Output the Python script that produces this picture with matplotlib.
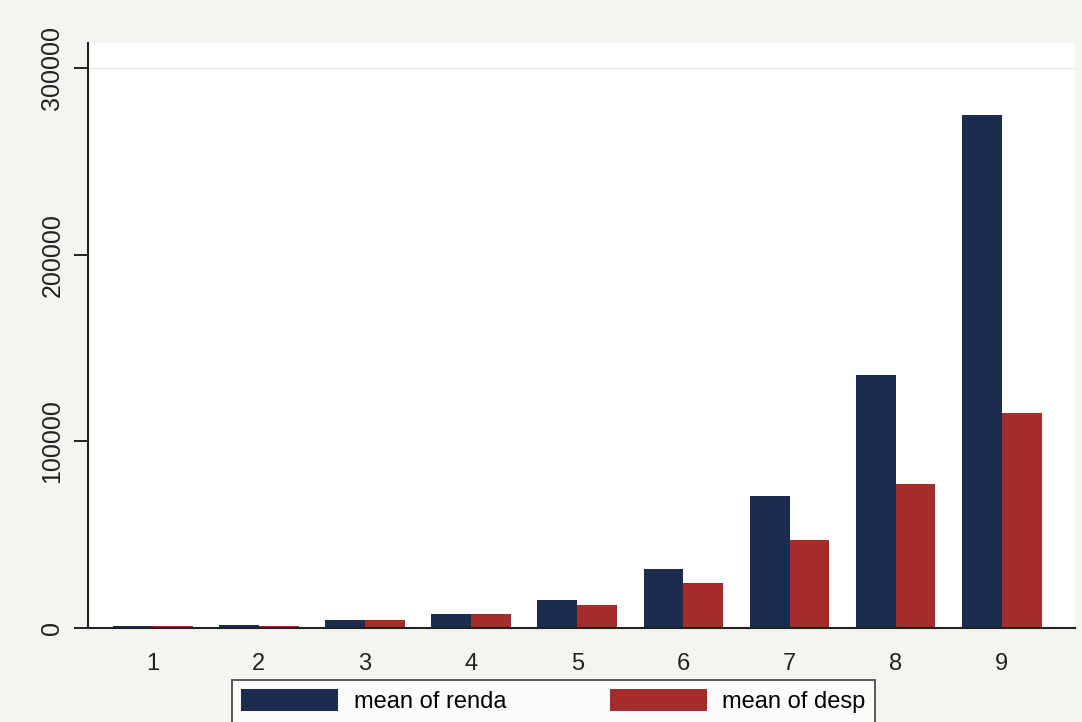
import matplotlib.pyplot as plt
import numpy as np

plt.rcParams['font.family'] = ['Liberation Sans', 'DejaVu Sans']

groups = ['1', '2', '3', '4', '5', '6', '7', '8', '9']
renda = [1000, 1600, 4300, 7500, 15000, 31600, 70700, 135500, 274800]
desp = [1000, 1300, 4300, 7500, 12300, 24100, 47100, 77100, 115200]
yticks = [0, 100000, 200000, 300000]

navy = '#1b2c4e'
red = '#a62b2b'

fig = plt.figure(figsize=(10.82, 7.22), dpi=100, facecolor='#f4f4f1')
ax = fig.add_axes([88 / 1082, 1 - 628 / 722, (1075 - 88) / 1082, (628 - 43) / 722])
ax.set_facecolor('white')

x = np.arange(1, len(groups) + 1)
w = 0.375
ax.bar(x - w / 2, renda, width=w, color=navy, label='mean of renda')
ax.bar(x + w / 2, desp, width=w, color=red, label='mean of desp')

ax.set_xlim(0.39, 9.69)
ax.set_ylim(0, 313400)
ax.set_xticks(x)
ax.set_xticklabels(groups, fontsize=17, color='#222222')
ax.tick_params(axis='x', length=0, pad=18)
ax.set_yticks(yticks)
ax.set_yticklabels([str(v) for v in yticks], fontsize=18, rotation=90,
                   va='center', color='#222222')
ax.tick_params(axis='y', length=10, width=1.2, pad=7)

ax.axhline(300000, color='#e6e9e8', lw=1, zorder=0)

for s in ['top', 'right']:
  ax.spines[s].set_visible(False)
for s in ['left', 'bottom']:
  ax.spines[s].set_linewidth(1.5)
  ax.spines[s].set_color('#222222')

leg = fig.legend(loc='upper left', bbox_to_anchor=(232 / 1082, 1 - 680 / 722),
                 ncol=2, fontsize=17, frameon=True, fancybox=False,
                 handlelength=4.1, handleheight=1.05, handletextpad=0.65,
                 columnspacing=4.4, borderpad=0.4, borderaxespad=0)
leg.get_frame().set_edgecolor('#222222')
leg.get_frame().set_linewidth(1.3)
leg.get_frame().set_facecolor('white')

fig.savefig('out.png', dpi=100, facecolor=fig.get_facecolor())
